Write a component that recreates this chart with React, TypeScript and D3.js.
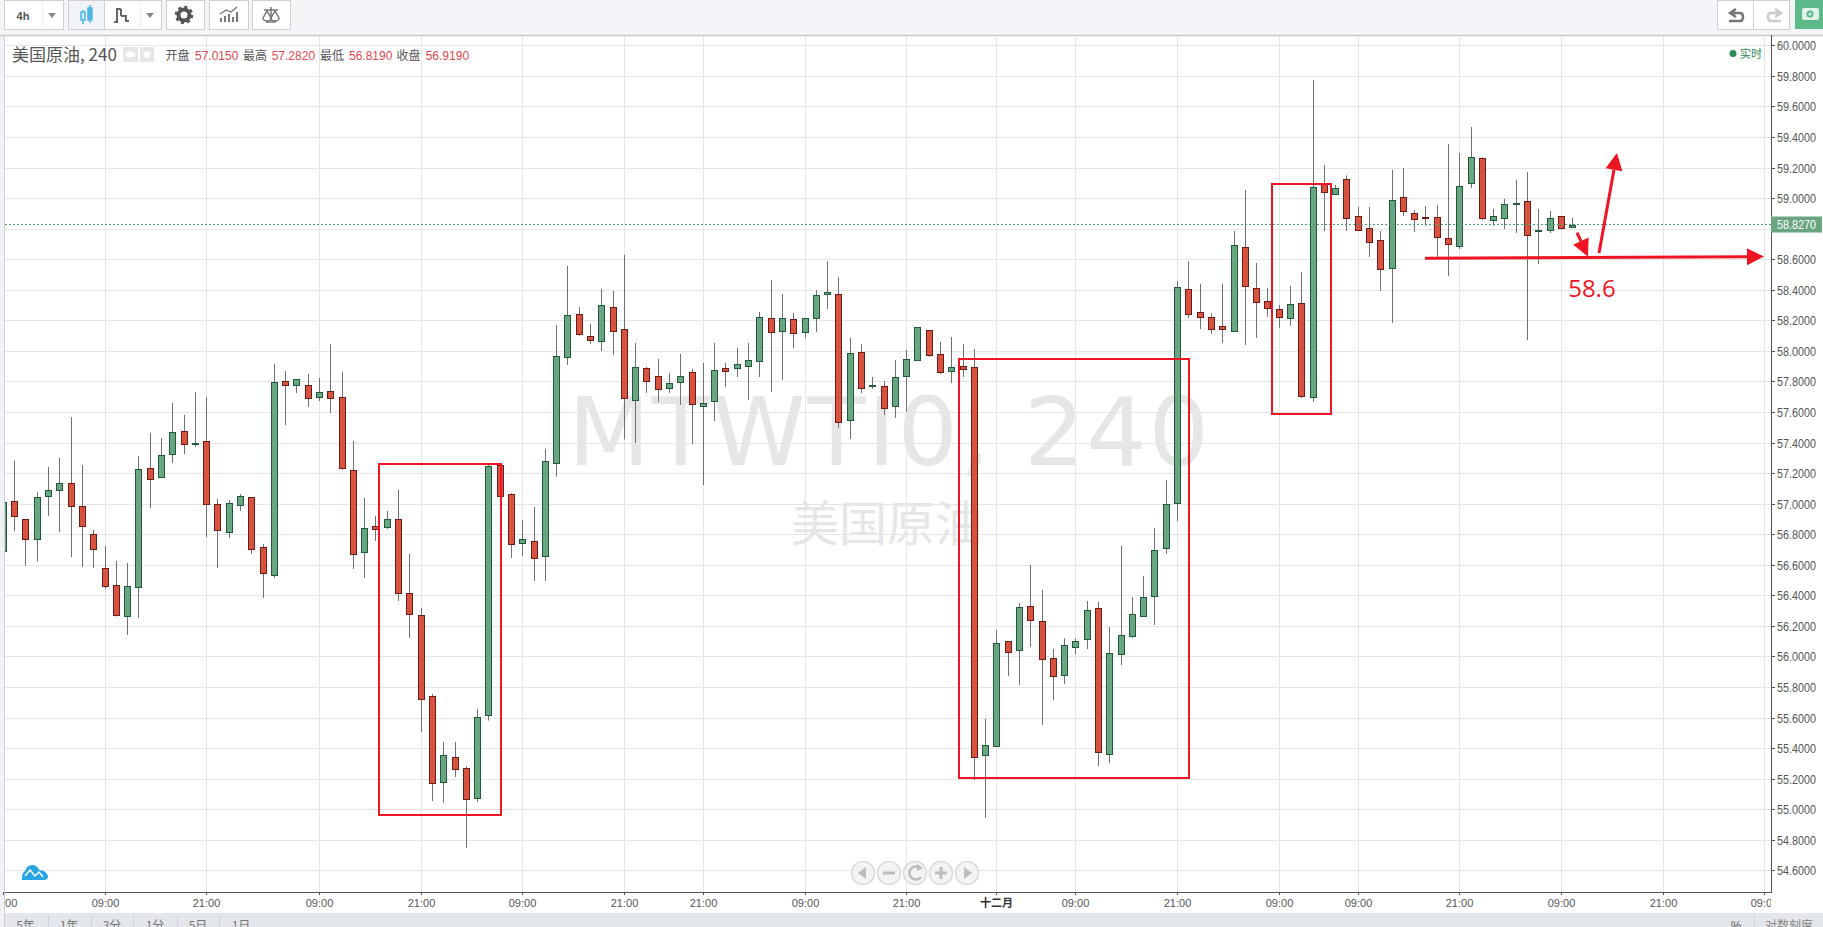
import React from "react";
import * as d3 from "d3";

const opens = [56.693,57.015,56.898,56.767,57.048,57.087,57.133,56.983,56.800,56.577,56.466,56.263,56.453,57.231,57.173,57.323,57.474,57.393,57.408,56.996,56.813,56.989,57.042,56.714,56.531,57.801,57.775,57.775,57.696,57.735,57.696,57.218,56.682,56.852,56.845,56.898,56.413,56.269,55.739,55.177,55.340,55.268,55.072,55.615,57.253,57.061,56.741,56.754,56.656,57.264,57.958,58.239,58.095,58.063,58.285,58.141,57.677,57.886,57.834,57.755,57.794,57.860,57.637,57.670,57.886,57.886,57.899,57.932,58.213,58.128,58.207,58.122,58.213,58.370,58.370,57.546,57.991,57.768,57.768,57.637,57.834,57.938,58.135,57.978,57.866,57.899,57.892,55.353,55.412,56.099,56.040,56.328,56.230,55.988,55.877,56.060,56.112,56.315,55.360,56.014,56.132,56.263,56.394,56.708,57.007,58.403,58.252,58.220,58.161,58.128,58.678,58.410,58.324,58.272,58.213,58.311,57.696,59.090,59.029,59.123,58.881,58.802,58.724,58.540,59.005,58.900,58.874,58.874,58.737,58.684,59.097,59.260,58.855,58.868,58.964,58.979,58.785,58.789,58.881,58.809];
const highs = [57.100,57.282,56.898,57.074,57.240,57.299,57.567,57.253,56.828,56.723,56.625,56.612,57.312,57.463,57.430,57.659,57.581,57.731,57.698,57.031,57.024,57.063,57.042,56.736,57.914,57.868,57.814,57.849,57.823,58.045,57.862,57.410,57.037,56.920,56.952,57.090,56.671,56.317,55.755,55.441,55.441,55.281,55.656,57.253,57.253,57.068,56.893,56.978,57.358,58.170,58.556,58.287,58.176,58.405,58.392,58.628,58.052,57.895,57.947,57.855,57.980,57.882,57.921,58.052,57.921,58.019,58.052,58.255,58.464,58.372,58.248,58.213,58.399,58.588,58.484,58.084,58.045,57.829,57.803,57.940,58.006,58.154,58.135,58.058,58.091,58.045,58.012,55.591,56.173,56.099,56.350,56.599,56.435,56.049,56.119,56.119,56.363,56.357,56.193,56.723,56.389,56.527,56.841,57.155,58.457,58.588,58.438,58.246,58.438,58.785,59.053,58.575,58.412,58.300,58.425,58.516,59.773,59.217,59.086,59.149,58.942,58.942,58.785,59.184,59.197,58.920,58.948,58.955,59.354,59.295,59.465,59.267,58.929,58.994,59.119,59.171,58.929,58.916,58.881,58.870];
const lows = [56.600,56.819,56.592,56.621,56.920,56.815,56.651,56.586,56.579,56.442,56.261,56.141,56.252,56.972,57.173,57.266,57.325,57.371,56.782,56.579,56.776,56.952,56.671,56.383,56.514,57.515,57.724,57.633,57.672,57.594,57.221,56.573,56.514,56.756,56.834,56.363,56.121,55.506,55.054,55.041,55.211,54.747,55.048,55.580,57.048,56.645,56.658,56.494,56.494,57.177,57.908,58.100,58.045,57.999,57.973,57.421,57.397,57.725,57.666,57.725,57.646,57.391,57.122,57.541,57.764,57.829,57.679,57.829,57.731,57.810,58.019,58.084,58.124,58.274,57.495,57.423,57.725,57.751,57.581,57.561,57.600,57.938,57.960,57.849,57.790,57.829,55.192,54.943,55.412,55.872,55.813,56.062,55.552,55.715,55.820,56.014,56.049,55.283,55.303,55.944,56.121,56.263,56.206,56.671,56.887,58.215,58.143,58.111,58.052,58.128,58.039,58.085,58.222,58.150,58.163,57.692,57.666,58.785,59.020,58.785,58.785,58.615,58.392,58.183,58.883,58.778,58.818,58.612,58.490,58.667,59.066,58.857,58.818,58.798,58.772,58.071,58.569,58.772,58.796,58.806];
const closes = [57.009,56.919,56.767,57.042,57.087,57.133,56.983,56.852,56.701,56.459,56.269,56.459,57.225,57.159,57.317,57.467,57.389,57.395,56.996,56.826,57.002,57.048,56.701,56.544,57.794,57.775,57.814,57.690,57.729,57.690,57.231,56.669,56.839,56.832,56.898,56.413,56.276,55.720,55.170,55.353,55.262,55.065,55.602,57.245,57.048,56.734,56.767,56.643,57.277,57.964,58.233,58.108,58.069,58.298,58.128,57.690,57.892,57.801,57.749,57.788,57.834,57.650,57.657,57.873,57.866,57.912,57.938,58.220,58.122,58.213,58.115,58.213,58.364,58.383,57.533,57.984,57.755,57.775,57.624,57.827,57.945,58.154,57.971,57.860,57.892,57.879,55.340,55.419,56.086,56.027,56.322,56.237,55.981,55.870,56.073,56.099,56.302,55.373,56.021,56.139,56.276,56.387,56.695,56.996,58.416,58.244,58.224,58.146,58.141,58.691,58.423,58.318,58.279,58.220,58.305,57.703,59.071,59.038,59.064,58.868,58.789,58.711,58.534,58.985,58.913,58.861,58.868,58.743,58.698,59.077,59.267,58.868,58.881,58.959,58.966,58.756,58.789,58.868,58.802,58.824];

const priceTicks = d3.range(27, -1, -1).map((k) => 54.6 + k * 0.2);
const timeTickBars = [0,9,18,28,37,46,55,62,71,80,88,95,104,113,120,129,138,147,156];
const timeTickLabels = ["21:00","09:00","21:00","09:00","21:00","09:00","21:00","21:00","09:00","21:00","十二月","09:00","21:00","09:00","09:00","21:00","09:00","21:00","09:00"];

const legendNames = ["开盘", "最高", "最低", "收盘"];
const legendValues = ["57.0150", "57.2820", "56.8190", "56.9190"];
const lastPrice = 58.827;
const rangeButtons = ["5年", "1年", "3分", "1分", "5日", "1日"];

// annotations, in bar number / price units
const boxBars = [[33.27, 44.07], [84.64, 104.98], [112.36, 117.59]];
const boxPrices = [[57.26, 54.965], [57.947, 55.207], [59.092, 57.589]];
const arrowBars = [[125.92, 155.94], [139.38, 140.35], [141.33, 142.92]];
const arrowPrices = [[58.606, 58.617], [58.774, 58.617], [58.641, 59.295]];
const supportLabel = "58.6";

const W = 1823, H = 927;
const plotL = 5, plotR = 1771, plotT = 36, plotB = 892;
const x = d3.scaleLinear().domain([0, 1]).range([3.41, 14.70]);
const y = d3.scaleLinear().domain([60, 54.6]).range([45.3, 870.3]);
const sans = '"Liberation Sans","Noto Sans CJK SC",sans-serif';
const cjk = '"Noto Sans CJK SC","Liberation Sans",sans-serif';
const RED = "#ee1423";
const lineGen = d3.line();

function snapX(i: number) { return Math.floor(x(i)) + 0.5; }
function snapY(p: number) { return Math.round(y(p)) + 0.5; }

function Candle({ i }: { i: number }) {
  const o = opens[i], c = closes[i], up = c >= o;
  const cx = snapX(i);
  const top = snapY(Math.max(o, c));
  const bot = snapY(Math.min(o, c));
  return (
    <g>
      <line x1={cx} x2={cx} y1={y(highs[i])} y2={y(lows[i])} stroke="#707070" strokeWidth={1} />
      <rect x={cx - 3} y={top} width={6} height={Math.max(bot - top, 1)}
        fill={up ? "#6aa582" : "#d7523f"} stroke={up ? "#1f5a3d" : "#6e1c17"} strokeWidth={1} />
    </g>
  );
}

function Arrow({ k }: { k: number }) {
  const x0 = x(arrowBars[k][0]), x1 = x(arrowBars[k][1]);
  const y0 = y(arrowPrices[k][0]), y1 = y(arrowPrices[k][1]);
  const len = Math.hypot(x1 - x0, y1 - y0);
  const ux = (x1 - x0) / len, uy = (y1 - y0) / len;
  const hl = 17, hw = 8.5;
  const bx = x1 - ux * hl, by = y1 - uy * hl;
  return (
    <g>
      <path d={lineGen([[x0, y0], [bx, by]]) ?? ""} stroke={RED} strokeWidth={3} fill="none" />
      <path d={(lineGen([[x1, y1], [bx - uy * hw, by + ux * hw], [bx + uy * hw, by - ux * hw]]) ?? "") + "Z"} fill={RED} />
    </g>
  );
}

function Btn({ xx, w, fill = "#fff" }: { xx: number; w: number; fill?: string }) {
  return <rect x={xx + 0.5} y={0.5} width={w} height={29} fill={fill} stroke="#cfcfcf" />;
}

export default function App() {
  const legendXs = [165.5, 243, 320, 396.5];
  const valueXs = [195, 271.7, 349, 425.7];
  const rangeXs = [25.5, 69, 112, 155, 198, 241];
  const rangeSeps = [48, 91, 133, 177, 219];
  const navXs = [863, 889, 915, 941, 967];
  return (
    <svg width={W} height={H} viewBox={`0 0 ${W} ${H}`}
      style={{ position: "fixed", left: 0, top: 0, display: "block", background: "#fff" }}>
      <defs>
        <clipPath id="plot"><rect x={plotL} y={plotT} width={plotR - plotL} height={plotB - plotT} /></clipPath>
        <clipPath id="tlab"><rect x={plotL} y={893} width={plotR - plotL} height={20} /></clipPath>
        <clipPath id="page"><rect x={0} y={0} width={W} height={H} /></clipPath>
      </defs>

      {/* page chrome */}
      <rect x={0} y={0} width={W} height={35} fill="#f2f4f8" />
      <rect x={0} y={35} width={5} height={H - 35} fill="#f0f1f7" />
      <line x1={0} x2={W} y1={35.5} y2={35.5} stroke="#c9c9c9" strokeWidth={1.5} />
      <line x1={4.5} x2={4.5} y1={35} y2={H} stroke="#d0d0d0" />

      {/* grid */}
      <g clipPath="url(#plot)">
        {priceTicks.map((p) => (
          <line key={p} x1={plotL} x2={plotR} y1={snapY(p)} y2={snapY(p)} stroke="#e5e5e5" />
        ))}
        {timeTickBars.map((b) => (
          <line key={b} x1={snapX(b)} x2={snapX(b)} y1={plotT} y2={plotB} stroke="#e5e5e5" />
        ))}
        {/* watermark */}
        <text x={568} y={465} fontFamily='"DejaVu Sans",sans-serif' fontSize={95} fill="#e6e6e6"
          textLength={641} lengthAdjust="spacing">MTWTI0, 240</text>
        <text x={887} y={541} textAnchor="middle" fontFamily={cjk} fontSize={48} fill="#e6e6e6">美国原油</text>
        {/* candles */}
        {opens.map((_, i) => <Candle key={i} i={i} />)}
        {/* last price line */}
        <line x1={plotL} x2={plotR} y1={y(lastPrice)} y2={y(lastPrice)} stroke="#4f9a72" strokeDasharray="2 2" />
      </g>

      {/* annotations */}
      {boxBars.map((b, k) => (
        <rect key={k} x={Math.round(x(b[0]))} y={Math.round(y(boxPrices[k][0]))} width={Math.round(x(b[1]) - x(b[0]))}
          height={Math.round(y(boxPrices[k][1]) - y(boxPrices[k][0]))} fill="none" stroke={RED} strokeWidth={2} />
      ))}
      {arrowBars.map((_, k) => <Arrow key={k} k={k} />)}
      <text x={x(140.7)} y={y(58.353)} textAnchor="middle" fontFamily='"Open Sans",sans-serif' fontSize={24} fill={RED}>{supportLabel}</text>

      {/* axes */}
      <line x1={plotR + 0.5} x2={plotR + 0.5} y1={35} y2={plotB + 1} stroke="#555" />
      <line x1={plotL} x2={plotR + 1} y1={plotB + 0.5} y2={plotB + 0.5} stroke="#555" />
      {priceTicks.map((p) => (
        <g key={p}>
          <line x1={plotR} x2={plotR + 4} y1={snapY(p)} y2={snapY(p)} stroke="#555" />
          {Math.abs(p - lastPrice) > 0.06 && (
            <text x={1777} y={snapY(p) + 4} fontFamily={sans} fontSize={12} fill="#555"
              textLength={39} lengthAdjust="spacingAndGlyphs">{d3.format(".4f")(p)}</text>
          )}
        </g>
      ))}
      <rect x={1771} y={y(lastPrice) - 8} width={51} height={16} fill="#6aa582" />
      <text x={1777} y={y(lastPrice) + 4} fontFamily={sans} fontSize={12} fill="#fff"
        textLength={39} lengthAdjust="spacingAndGlyphs">{d3.format(".4f")(lastPrice)}</text>

      <g clipPath="url(#tlab)">
        {timeTickBars.map((b, k) => (
          <text key={b} x={snapX(b)} y={907} textAnchor="middle" fontFamily={sans} fontSize={11}
            fontWeight={timeTickLabels[k] === "十二月" ? 700 : 400}
            fill={timeTickLabels[k] === "十二月" ? "#333" : "#555"}>{timeTickLabels[k]}</text>
        ))}
      </g>
      {timeTickBars.map((b) => (
        <line key={b} x1={snapX(b)} x2={snapX(b)} y1={plotB} y2={plotB + 3} stroke="#555" />
      ))}

      {/* legend */}
      <text x={12} y={61} fontFamily={cjk} fontSize={17} fill="#555">美国原油, 240</text>
      <rect x={123} y={47} width={15} height={15} fill="#e6e6e6" />
      <rect x={140} y={47} width={14} height={15} fill="#e6e6e6" />
      <ellipse cx={130.5} cy={54.5} rx={5} ry={3} fill="#fff" />
      <circle cx={147} cy={54.5} r={3.5} fill="#fff" />
      {legendNames.map((n, k) => (
        <g key={n}>
          <text x={legendXs[k]} y={60} fontFamily={cjk} fontSize={12} fill="#555">{n}</text>
          <text x={valueXs[k]} y={60} fontFamily={sans} fontSize={12} fill="#e0484f">{legendValues[k]}</text>
        </g>
      ))}
      <circle cx={1733} cy={53.5} r={3.5} fill="#2e8b57" />
      <text x={1740} y={57.5} fontFamily={cjk} fontSize={11} fill="#2e8b57">实时</text>

      {/* logo */}
      <path d="M22 880 Q21 874 25 871 Q27 865 32 865 Q37 865 39 870 Q46 870 48 876 Q48 880 44 880 Z" fill="#29a5e3" />
      <path d="M25 876 L30 870 L35 876 L39 872 L43 877" fill="none" stroke="#fff" strokeWidth={1.5} />

      {/* nav buttons */}
      {navXs.map((cx) => (
        <circle key={cx} cx={cx} cy={873} r={11.5} fill="#f0f0f0" fillOpacity={0.75} stroke="#dadada" strokeWidth={1.5} />
      ))}
      <g fill="#bdbdbd">
        <path d="M858 873 L866 867 L866 879 Z" />
        <rect x={883} y={871.5} width={12} height={3} />
        <rect x={935} y={871.5} width={12} height={3} />
        <rect x={939.5} y={867} width={3} height={12} />
        <path d="M972 873 L964 867 L964 879 Z" />
      </g>
      <path d="M920 868 A6.5 6.5 0 1 0 921 877" fill="none" stroke="#bdbdbd" strokeWidth={2.5} />
      <path d="M917 864 L923 868 L917 871 Z" fill="#bdbdbd" />

      {/* bottom bar */}
      <g clipPath="url(#page)">
        <rect x={5} y={913} width={W - 5} height={14} fill="#e3e6eb" />
        {rangeButtons.map((t, k) => (
          <text key={t} x={rangeXs[k]} y={930} textAnchor="middle" fontFamily={cjk} fontSize={12} fill="#777">{t}</text>
        ))}
        {rangeSeps.map((s) => <line key={s} x1={s + 0.5} x2={s + 0.5} y1={915} y2={927} stroke="#cfd2d8" />)}
        <text x={1736} y={930} textAnchor="middle" fontFamily={sans} fontSize={12} fontWeight={700} fill="#888">%</text>
        <line x1={1754.5} x2={1754.5} y1={915} y2={927} stroke="#cfd2d8" />
        <text x={1789} y={930} textAnchor="middle" fontFamily={cjk} fontSize={12} fill="#888">对数刻度</text>
      </g>

      {/* toolbar */}
      <Btn xx={4} w={59} />
      <text x={23} y={20} textAnchor="middle" fontFamily={sans} fontSize={11} fontWeight={700} fill="#555">4h</text>
      <line x1={42.5} x2={42.5} y1={2} y2={28} stroke="#ddd" strokeDasharray="1 1" />
      <path d="M48 13 L56 13 L52 18 Z" fill="#888" />
      <Btn xx={68} w={93} />
      <rect x={69} y={1} width={35} height={28} fill="#f0f4f6" />
      <line x1={104.5} x2={104.5} y1={0} y2={30} stroke="#cfcfcf" />
      <line x1={140.5} x2={140.5} y1={2} y2={28} stroke="#ddd" strokeDasharray="1 1" />
      <g stroke="#4fb7e6" strokeWidth={1.5}>
        <line x1={83} x2={83} y1={10} y2={24} />
        <rect x={81} y={12} width={4} height={8} fill="#cdebf8" />
        <line x1={90} x2={90} y1={5} y2={23} />
        <rect x={88} y={8} width={4} height={12} fill="#4fb7e6" />
      </g>
      <path d="M114 22 H117 V9 H121 M121 9 V16 M121 16 H126 V21 H129" fill="none" stroke="#666" strokeWidth={2} />
      <path d="M146 13 L154 13 L150 18 Z" fill="#888" />
      <Btn xx={166} w={38} />
      <circle cx={184} cy={15} r={5.5} fill="none" stroke="#555" strokeWidth={4} />
      <circle cx={184} cy={15} r={8} fill="none" stroke="#555" strokeWidth={2.5} strokeDasharray="3 3.3" />
      <Btn xx={209} w={39} />
      <g fill="#777">
        <rect x={220} y={18} width={2} height={4} /><rect x={224} y={16} width={2} height={6} />
        <rect x={228} y={14} width={2} height={8} /><rect x={232} y={17} width={2} height={5} />
        <rect x={236} y={12} width={2} height={10} />
      </g>
      <path d="M220 14 L226 10 L231 12 L237 7" fill="none" stroke="#777" strokeWidth={1.3} />
      <Btn xx={252} w={38} />
      <g fill="none" stroke="#777" strokeWidth={1.5}>
        <line x1={271} x2={271} y1={7} y2={21} />
        <line x1={264} x2={278} y1={10} y2={10} />
        <path d="M263 18 a4 3 0 0 0 8 0 l-4 -7 Z" />
        <path d="M271 18 a4 3 0 0 0 8 0 l-4 -7 Z" />
        <line x1={266} x2={276} y1={22} y2={22} />
      </g>
      <Btn xx={1717} w={36} />
      <path d="M1736 9 L1730 13 L1736 17 M1731 13 H1740 Q1743 13 1743 17 T1740 21 H1729" fill="none" stroke="#777" strokeWidth={2.5} />
      <Btn xx={1753} w={36} />
      <path d="M1775 9 L1781 13 L1775 17 M1780 13 H1771 Q1768 13 1768 17 T1771 21 H1781" fill="none" stroke="#ccc" strokeWidth={2.5} />
      <rect x={1795} y={0} width={28} height={29} fill="#5cb98a" />
      <rect x={1802} y={8} width={17} height={12} rx={2} fill="#dff3e8" />
      <circle cx={1810} cy={14} r={3.5} fill="#5cb98a" />
      <circle cx={1810} cy={14} r={1.5} fill="#dff3e8" />
    </svg>
  );
}
